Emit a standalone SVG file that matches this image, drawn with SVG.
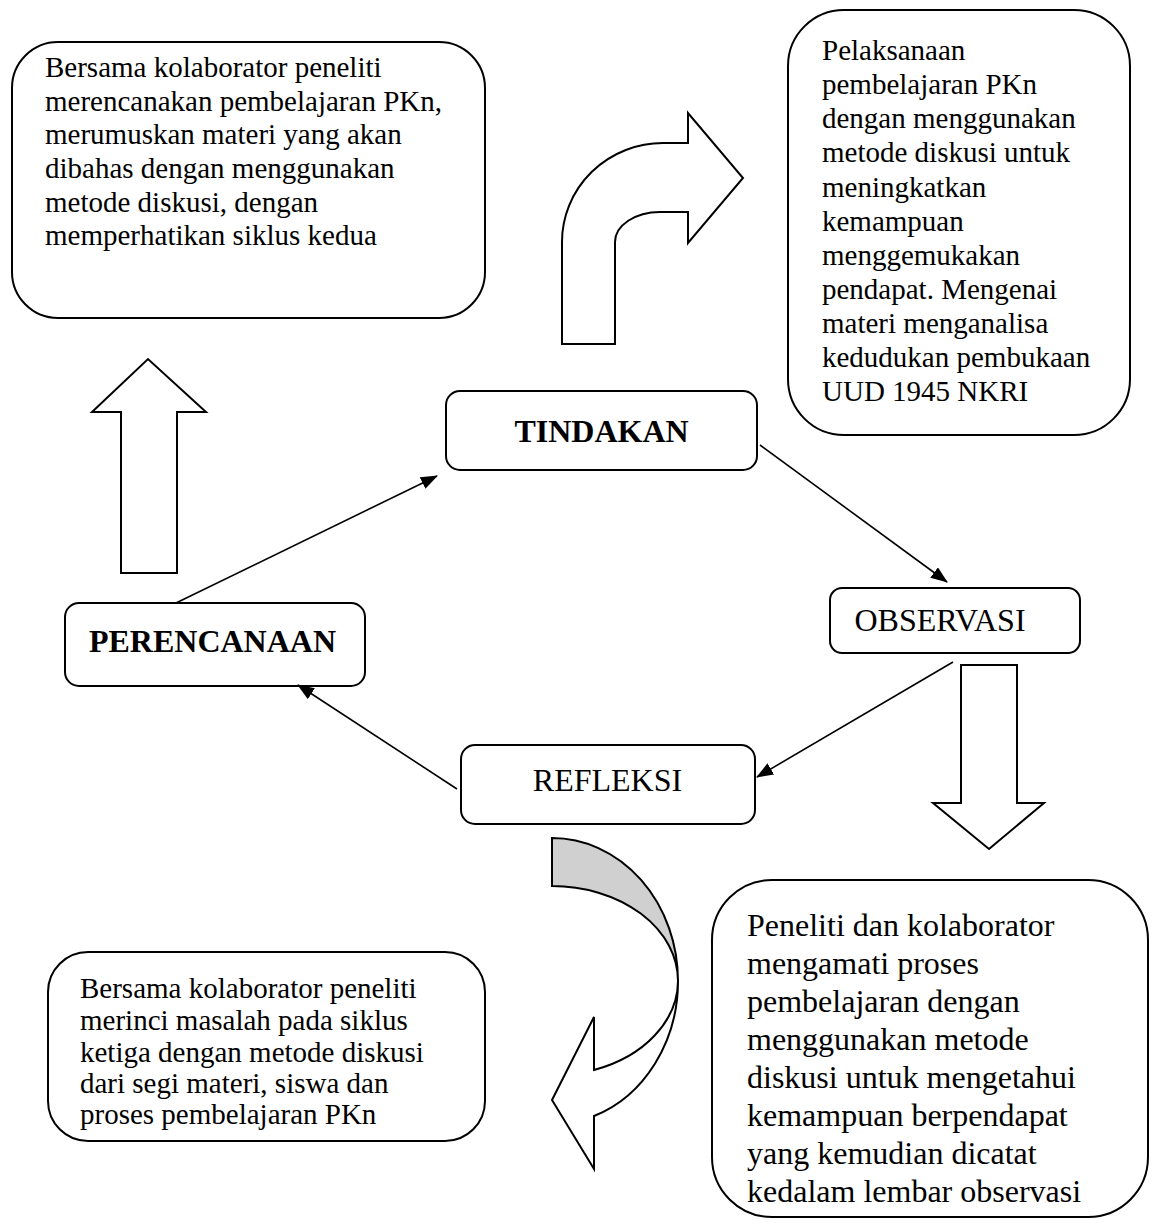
<svg xmlns="http://www.w3.org/2000/svg" width="1159" height="1227" viewBox="0 0 1159 1227">
<defs>
<style>
.box{fill:#fff;stroke:#000;stroke-width:2}
.blk{fill:#fff;stroke:#000;stroke-width:2;stroke-linejoin:miter}
.t{font-family:"Liberation Serif","Times New Roman",serif;font-size:29px;fill:#000}
.t2{font-family:"Liberation Serif","Times New Roman",serif;font-size:32px;fill:#000}
.lb{font-family:"Liberation Serif","Times New Roman",serif;font-size:32px;fill:#000;text-anchor:middle}
.bold{font-weight:bold}
.con{stroke:#000;stroke-width:1.6;fill:none;marker-end:url(#ah)}
</style>
<marker id="ah" markerUnits="userSpaceOnUse" markerWidth="18" markerHeight="14" refX="16" refY="6.5" orient="auto">
<path d="M0,0 L17,6.5 L0,13 Z" fill="#000"/>
</marker>
</defs>
<rect width="1159" height="1227" fill="#fff"/>

<g id="box-perencanaan-detail">
<rect class="box" x="12" y="42" width="473" height="276" rx="46" ry="46"/>
<text class="t" x="45" y="77">Bersama kolaborator peneliti</text>
<text class="t" x="45" y="110.5">merencanakan pembelajaran PKn,</text>
<text class="t" x="45" y="144">merumuskan materi yang akan</text>
<text class="t" x="45" y="178">dibahas dengan menggunakan</text>
<text class="t" x="45" y="211.5">metode diskusi, dengan</text>
<text class="t" x="45" y="245">memperhatikan siklus kedua</text>
</g>

<g id="box-tindakan-detail">
<rect class="box" x="788" y="10" width="342" height="425" rx="56" ry="56"/>
<text class="t" x="822" y="60">Pelaksanaan</text>
<text class="t" x="822" y="94">pembelajaran PKn</text>
<text class="t" x="822" y="128">dengan menggunakan</text>
<text class="t" x="822" y="162">metode diskusi untuk</text>
<text class="t" x="822" y="196.5">meningkatkan</text>
<text class="t" x="822" y="230.5">kemampuan</text>
<text class="t" x="822" y="264.5">menggemukakan</text>
<text class="t" x="822" y="298.5">pendapat. Mengenai</text>
<text class="t" x="822" y="333">materi menganalisa</text>
<text class="t" x="822" y="367">kedudukan pembukaan</text>
<text class="t" x="822" y="401">UUD 1945 NKRI</text>
</g>

<g id="tindakan">
<rect class="box" x="446" y="391" width="311" height="79" rx="14" ry="14"/>
<text class="lb bold" x="601.5" y="442" font-size="34.5">TINDAKAN</text>
</g>

<g id="observasi">
<rect class="box" x="830" y="588" width="250" height="65" rx="12" ry="12"/>
<text class="lb" x="940" y="631" font-size="33">OBSERVASI</text>
</g>

<g id="perencanaan">
<rect class="box" x="65" y="603" width="300" height="83" rx="14" ry="14"/>
<text class="lb bold" x="212.5" y="652" font-size="31">PERENCANAAN</text>
</g>

<g id="refleksi">
<rect class="box" x="461" y="745" width="294" height="79" rx="14" ry="14"/>
<text class="lb" x="607.5" y="791">REFLEKSI</text>
</g>

<g id="box-refleksi-detail">
<rect class="box" x="48" y="952" width="437" height="189" rx="40" ry="40"/>
<text class="t" x="80" y="998">Bersama kolaborator peneliti</text>
<text class="t" x="80" y="1030">merinci masalah pada siklus</text>
<text class="t" x="80" y="1062">ketiga dengan metode diskusi</text>
<text class="t" x="80" y="1093">dari segi materi, siswa dan</text>
<text class="t" x="80" y="1124">proses pembelajaran PKn</text>
</g>

<g id="box-observasi-detail">
<rect class="box" x="712" y="880" width="436" height="337" rx="60" ry="60"/>
<text class="t2" x="747" y="936">Peneliti dan kolaborator</text>
<text class="t2" x="747" y="974">mengamati proses</text>
<text class="t2" x="747" y="1012">pembelajaran dengan</text>
<text class="t2" x="747" y="1050">menggunakan metode</text>
<text class="t2" x="747" y="1088">diskusi untuk mengetahui</text>
<text class="t2" x="747" y="1126">kemampuan berpendapat</text>
<text class="t2" x="747" y="1164">yang kemudian dicatat</text>
<text class="t2" x="747" y="1202">kedalam lembar observasi</text>
</g>

<g id="block-arrows">
<path class="blk" d="M121,573 L121,412 L92,412 L148,359 L206,412 L177,412 L177,573 Z"/>
<path class="blk" d="M961,665 L1017,665 L1017,803 L1044,803 L989,849 L933,803 L961,803 Z"/>
<path class="blk" d="M562,344 L562,242 A101,99 0 0 1 663,143 L688,143 L688,113 L743,178 L688,243 L688,212 L660,212 A45,30 0 0 0 615,242 L615,344 Z"/>
<path d="M552,838 A126,143 0 0 1 678,981 A126,95 0 0 0 552,886 Z" fill="#d0d0d0" stroke="#000" stroke-width="2"/>
<path class="blk" d="M678,981 A126,143 0 0 1 594,1116 L594,1169 L552,1100 L594,1017 L594,1070 A126,95 0 0 0 678,981 Z"/>
</g>

<g id="connectors">
<line class="con" x1="176" y1="603" x2="437" y2="476"/>
<line class="con" x1="760" y1="445" x2="947" y2="582"/>
<line class="con" x1="953" y1="662" x2="757" y2="777"/>
<line class="con" x1="457" y1="789" x2="298" y2="685"/>
</g>
</svg>
